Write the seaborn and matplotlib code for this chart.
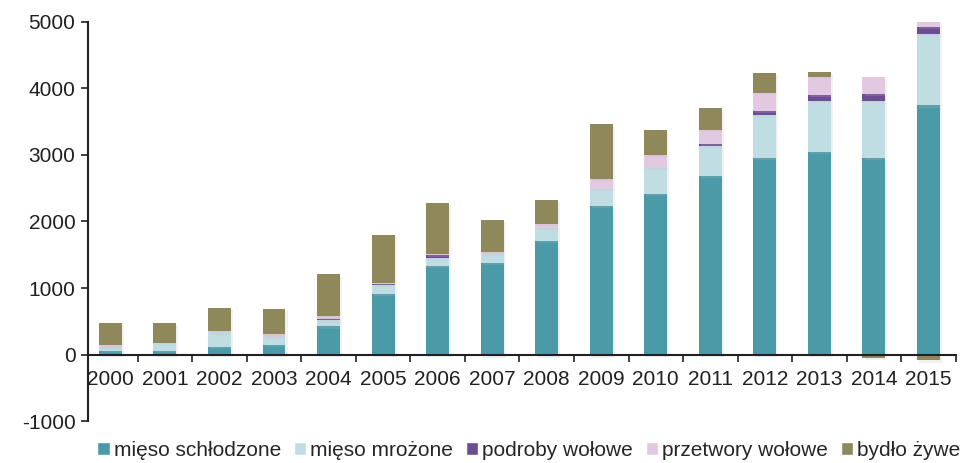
import numpy as np
import pandas as pd
import seaborn as sns
import matplotlib.pyplot as plt
from matplotlib.patches import Patch
import matplotlib.patheffects as pe

years = [str(y) for y in range(2000, 2016)]

# wartości
mieso_schlodzone = [60, 50, 110, 140, 422, 914, 1330, 1381, 1706, 2229, 2410, 2681, 2962, 3042, 2956, 3745]
mieso_mrozone = [50, 120, 221, 120, 90, 125, 126, 125, 196, 256, 401, 452, 633, 764, 850, 1074]
podroby_wolowe = [0, 0, 0, 0, 25, 20, 35, -15, -15, -15, 0, 30, 65, 90, 105, 101]
przetwory_wolowe = [35, 10, 20, 41, 35, 21, 25, 30, 66, 160, 196, 215, 266, 271, 256, 90]
bydlo_zywe = [332, 297, 352, 387, 633, 712, 768, 482, 351, 814, 362, 322, 301, 75, -50, -90]

series = [
    ('mięso schłodzone', mieso_schlodzone, '#4a9aa8'),
    ('mięso mrożone', mieso_mrozone, '#c0dde3'),
    ('podroby wołowe', podroby_wolowe, '#6d4c94'),
    ('przetwory wołowe', przetwory_wolowe, '#e2c8e0'),
    ('bydło żywe', bydlo_zywe, '#8f885b'),
]

sns.set_style('white')
plt.rcParams['font.family'] = ['Liberation Sans', 'DejaVu Sans']
plt.rcParams['axes.unicode_minus'] = False

fig = plt.figure(figsize=(9.62, 4.63), dpi=100)
ax = fig.add_axes([0.0915, 0.0907, 0.902, 0.8618])

pos_bottom = np.zeros(len(years))
neg_bottom = np.zeros(len(years))
handles = []
for name, vals, col in series:
    v = np.array(vals, dtype=float)
    bottom = np.where(v >= 0, pos_bottom, neg_bottom)
    sns.barplot(x=years, y=v, bottom=bottom, color=col, width=0.42, ax=ax,
                saturation=1, linewidth=0,
                path_effects=[pe.SimplePatchShadow(offset=(1.5, -1.5), shadow_rgbFace='#bbbbbb', alpha=0.2),
                              pe.Normal()])
    pos_bottom = np.where(v >= 0, pos_bottom + v, pos_bottom)
    neg_bottom = np.where(v < 0, neg_bottom + v, neg_bottom)
    handles.append(Patch(facecolor=col, label=name))

ax.set_ylim(-1000, 5000)
ax.set_xlim(-0.41, 15.5)
ax.set_yticks(range(-1000, 5001, 1000))
ax.set_xlabel('')
ax.set_ylabel('')

for s in ['top', 'right']:
    ax.spines[s].set_visible(False)
ax.spines['bottom'].set_position(('data', 0))
ax.spines['left'].set_color('#231f20')
ax.spines['bottom'].set_color('#231f20')
ax.spines['left'].set_linewidth(1.5)
ax.spines['bottom'].set_linewidth(1.5)

ax.set_xticks(np.arange(16))
ax.set_xticks(np.arange(0.5, 15.6, 1), minor=True)
ax.tick_params(axis='x', which='major', bottom=True, length=0, labelsize=15, pad=11, colors='#231f20')
ax.tick_params(axis='x', which='minor', bottom=True, length=5, width=1.2, direction='out', colors='#231f20')
ax.tick_params(axis='y', left=True, length=5, width=1.2, direction='out', labelsize=15, pad=4, colors='#231f20')

ax.legend(handles=handles, loc='center', bbox_to_anchor=(0.508, -0.073), ncol=5,
          frameon=False, fontsize=15, handlelength=0.6, handleheight=0.6,
          handletextpad=0.2, columnspacing=0.6, borderaxespad=0, borderpad=0)

fig.savefig('out.png', dpi=100)
